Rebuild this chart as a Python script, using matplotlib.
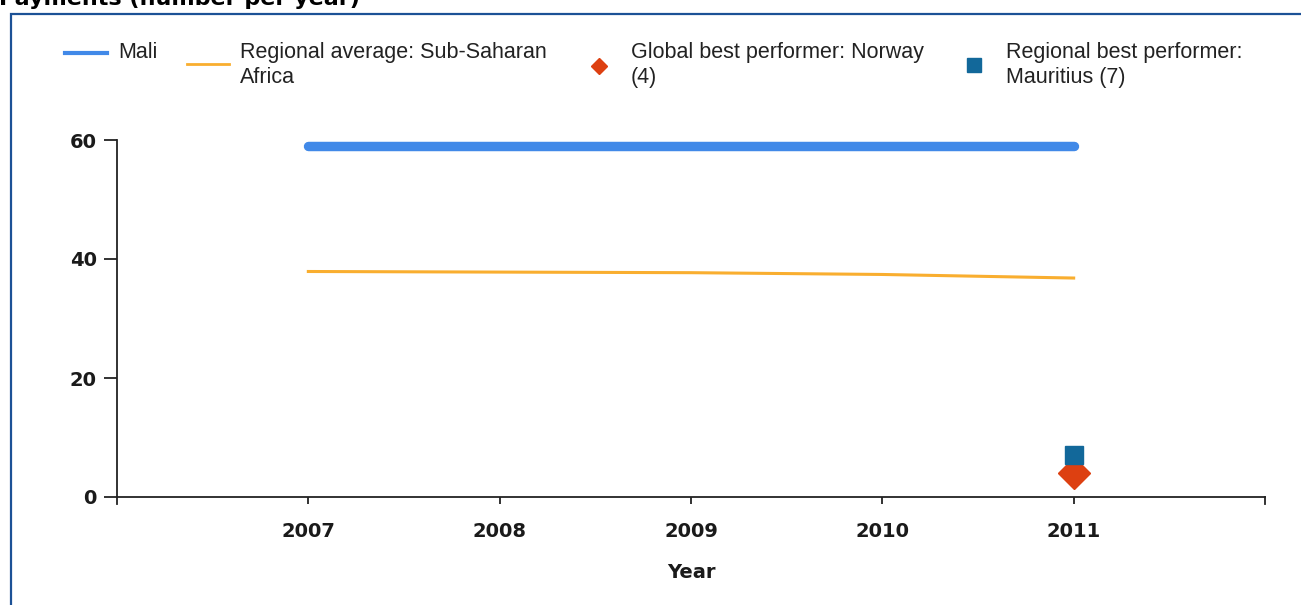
import matplotlib.pyplot as plt
from matplotlib.lines import Line2D
from matplotlib.patches import Rectangle

# data
years = [2007, 2008, 2009, 2010, 2011]
mali = [59, 59, 59, 59, 59]
regional_avg = [37.9, 37.8, 37.7, 37.4, 36.8]
global_best_year = [2011]
global_best = [4]          # Norway
regional_best_year = [2011]
regional_best = [7]        # Mauritius

W, H = 1301, 605
fig = plt.figure(figsize=(W / 100, H / 100), dpi=100)

def fx(px):
    return px / W

def fy(py):
    return 1 - py / H

# blue frame around the chart area (runs off the right/bottom edge)
fig.patches.append(Rectangle((fx(11), fy(700)), fx(1400), fy(13.5) - fy(700),
                             transform=fig.transFigure, fill=False,
                             edgecolor='#1c5196', linewidth=1.6))
fig.text(fx(-1), fy(5), 'Payments (number per year)', fontsize=16,
         fontweight='bold', family='DejaVu Sans', va='baseline', ha='left')

ax = fig.add_axes([fx(117), fy(497), fx(1265) - fx(117), fy(140) - fy(497)])

ax.plot(years, mali, color='#4189e8', linewidth=6.8, solid_capstyle='round', zorder=3)
ax.plot(years, regional_avg, color='#f9ae2f', linewidth=2.2, zorder=3)
ax.plot(global_best_year, global_best, linestyle='none', marker='D',
        markersize=16, color='#dd4011', zorder=4)
ax.plot(regional_best_year, regional_best, linestyle='none', marker='s',
        markersize=13.5, color='#12689a', zorder=5)

ax.set_xlim(2006, 2012)
ax.set_ylim(0, 60)
ax.set_xticks(years)
ax.set_xticklabels([str(y) for y in years])
ax.set_yticks([0, 20, 40, 60])
for s in ['top', 'right']:
    ax.spines[s].set_visible(False)
for s in ['left', 'bottom']:
    ax.spines[s].set_color('#222222')
    ax.spines[s].set_linewidth(1.3)
ax.tick_params(axis='y', length=9.5, width=1.3, pad=5, color='#222222')
ax.tick_params(axis='x', length=5, width=1.3, pad=13, color='#222222')
for lab in ax.get_xticklabels() + ax.get_yticklabels():
    lab.set_fontsize(14)
    lab.set_fontweight('bold')
    lab.set_color('#1a1a1a')
ax.set_xlabel('Year', fontsize=14, fontweight='bold', labelpad=16, color='#1a1a1a')

# end ticks on the x axis
ax.plot([2012, 2012], [0, -1.2], color='#222222', linewidth=1.3, clip_on=False)
ax.plot([2006, 2006], [0, -1.2], color='#222222', linewidth=1.3, clip_on=False)

# legend, placed by hand to follow the reference layout
leg_font = dict(fontsize=15.5, family='Liberation Sans', color='#222222',
                va='top', ha='left', linespacing=1.24)
fig.add_artist(Line2D([fx(65), fx(107)], [fy(53), fy(53)], transform=fig.transFigure,
                      color='#4189e8', linewidth=3))
fig.text(fx(118), fy(42), 'Mali', **leg_font)
fig.add_artist(Line2D([fx(187), fx(229)], [fy(64), fy(64)], transform=fig.transFigure,
                      color='#f9ae2f', linewidth=2))
fig.text(fx(240), fy(42), 'Regional average: Sub-Saharan\nAfrica', **leg_font)
fig.add_artist(Line2D([fx(599)], [fy(66)], transform=fig.transFigure, linestyle='none',
                      marker='D', markersize=8, color='#dd4011'))
fig.text(fx(631), fy(42), 'Global best performer: Norway\n(4)', **leg_font)
fig.add_artist(Line2D([fx(974)], [fy(65)], transform=fig.transFigure, linestyle='none',
                      marker='s', markersize=9.5, color='#12689a'))
fig.text(fx(1006), fy(42), 'Regional best performer:\nMauritius (7)', **leg_font)

plt.savefig('out.png', dpi=100)
